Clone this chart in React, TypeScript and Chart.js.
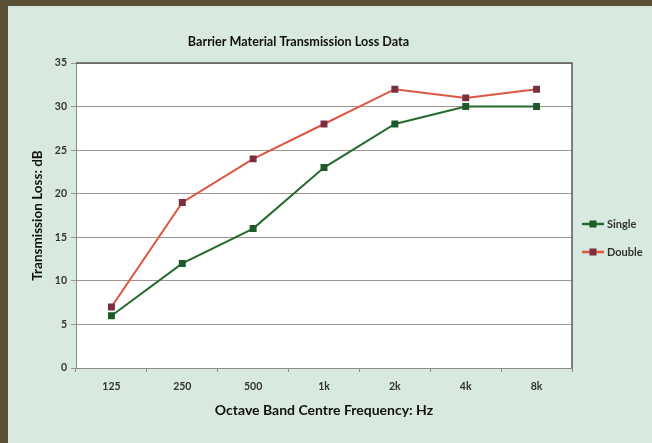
import React, { useEffect, useRef } from "react";
import { Chart, registerables } from "chart.js";

Chart.register(...registerables);

const categories = ["125", "250", "500", "1k", "2k", "4k", "8k"];
const singleValues = [6, 12, 16, 23, 28, 30, 30];
const doubleValues = [7, 19, 24, 28, 32, 31, 32];
const seriesNames = ["Single", "Double"];

const FONT = "Lato, 'Open Sans', sans-serif";

const plotBg = {
  id: "plotBg",
  beforeDraw(chart: any) {
    const { ctx, chartArea: a } = chart;
    ctx.save();
    ctx.fillStyle = "#ffffff";
    ctx.fillRect(a.left, a.top, a.right - a.left, a.bottom - a.top);
    ctx.restore();
  },
  afterDraw(chart: any) {
    const { ctx, chartArea: a } = chart;
    ctx.save();
    ctx.strokeStyle = "#5a5a5a";
    ctx.lineWidth = 1.5;
    ctx.beginPath();
    ctx.moveTo(a.left, a.top);
    ctx.lineTo(a.right, a.top);
    ctx.lineTo(a.right, a.bottom);
    ctx.stroke();
    // legend
    const items = chart.data.datasets;
    const x0 = a.right + 10;
    const ys = [224, 252];
    items.forEach((ds: any, i: number) => {
      const y = ys[i];
      ctx.strokeStyle = ds.borderColor;
      ctx.lineWidth = 2.5;
      ctx.beginPath();
      ctx.moveTo(x0, y);
      ctx.lineTo(x0 + 22, y);
      ctx.stroke();
      ctx.fillStyle = ds.pointBackgroundColor;
      ctx.fillRect(x0 + 7.5, y - 3.5, 7, 7);
      ctx.fillStyle = "#333333";
      ctx.font = `bold 11px ${FONT}`;
      ctx.textBaseline = "middle";
      ctx.textAlign = "left";
      ctx.fillText(ds.label, x0 + 25, y);
    });
    ctx.restore();
  },
};

export default function App() {
  const ref = useRef<HTMLCanvasElement | null>(null);
  useEffect(() => {
    if (!ref.current) return;
    const chart = new Chart(ref.current, {
      type: "line",
      data: {
        labels: categories,
        datasets: [
          {
            label: seriesNames[0],
            data: singleValues,
            borderColor: "#256b30",
            backgroundColor: "#1c5a28",
            pointBackgroundColor: "#1c5a28",
            pointBorderColor: "#1c5a28",
            pointStyle: "rect",
            pointRadius: 3.5,
            borderWidth: 2,
            tension: 0,
          },
          {
            label: seriesNames[1],
            data: doubleValues,
            borderColor: "#de5540",
            backgroundColor: "#7a2e3e",
            pointBackgroundColor: "#7a2e3e",
            pointBorderColor: "#7a2e3e",
            pointStyle: "rect",
            pointRadius: 3.5,
            borderWidth: 2,
            tension: 0,
          },
        ],
      },
      options: {
        animation: false,
        responsive: false,
        layout: { padding: { left: 25, right: 80, top: 0, bottom: 23 } },
        plugins: {
          legend: { display: false },
          tooltip: { enabled: false },
          title: {
            display: true,
            text: "Barrier Material Transmission Loss Data",
            color: "#111111",
            font: { family: FONT, size: 12.6, weight: "bold" },
            padding: { top: 34, bottom: 13.9 },
          },
        },
        scales: {
          x: {
            offset: true,
            grid: {
              offset: true,
              drawOnChartArea: false,
              drawTicks: true,
              tickLength: 4,
              color: "#8a8a8a",
            },
            border: { color: "#8a8a8a", width: 1 },
            ticks: {
              color: "#333333",
              padding: 8,
              font: { family: FONT, size: 10.5, weight: "bold" },
              maxRotation: 0,
            },
            title: {
              display: true,
              text: "Octave Band Centre Frequency: Hz",
              color: "#111111",
              font: { family: FONT, size: 14, weight: "bold" },
              padding: 1.6,
            },
            afterFit(scale: any) {
              scale.height = 52;
            },
          },
          y: {
            min: 0,
            max: 35,
            ticks: {
              stepSize: 5,
              color: "#333333",
              padding: 4,
              font: { family: FONT, size: 10.5, weight: "bold" },
            },
            grid: {
              color: "#a0948f",
              lineWidth: 1,
              tickLength: 5,
            },
            border: { color: "#8a8a8a", width: 1 },
            title: {
              display: true,
              text: "Transmission Loss: dB",
              color: "#111111",
              font: { family: FONT, size: 13.5, weight: "bold" },
              padding: 4.9,
            },
            afterFit(scale: any) {
              scale.width = 51;
            },
          },
        },
      },
      plugins: [plotBg],
    });
    return () => chart.destroy();
  }, []);

  return (
    <div
      style={{
        position: "fixed",
        left: 0,
        top: 0,
        width: 652,
        height: 443,
        background: "#5a5036",
      }}
    >
      <div
        style={{
          position: "absolute",
          left: 8,
          top: 6,
          right: 0,
          bottom: 0,
          background: "#d8e9df",
        }}
      />
      <canvas
        ref={ref}
        width={652}
        height={443}
        style={{ position: "absolute", left: 0, top: 0, width: 652, height: 443 }}
      />
    </div>
  );
}
